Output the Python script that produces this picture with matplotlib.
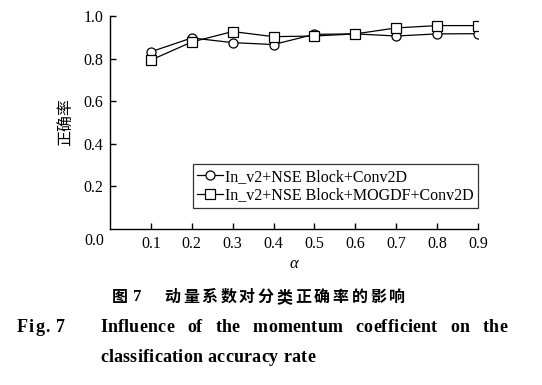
import matplotlib
matplotlib.use("Agg")
import matplotlib.pyplot as plt

alpha = [0.1, 0.2, 0.3, 0.4, 0.5, 0.6, 0.7, 0.8, 0.9]
acc_base = [0.832, 0.897, 0.875, 0.866, 0.914, 0.916, 0.906, 0.916, 0.917]
acc_mogdf = [0.793, 0.878, 0.927, 0.903, 0.906, 0.916, 0.944, 0.955, 0.955]
label_base = "In_v2+NSE Block+Conv2D"
label_mogdf = "In_v2+NSE Block+MOGDF+Conv2D"
xticks = [0.1, 0.2, 0.3, 0.4, 0.5, 0.6, 0.7, 0.8, 0.9]
yticks = [0.2, 0.4, 0.6, 0.8, 1.0]

W, H = 542, 385
fig = plt.figure(figsize=(W / 100, H / 100), dpi=100)
serif = "Liberation Serif"
cjk = ["Noto Sans CJK SC", "DejaVu Sans"]

def fx(x):
    return x / W

def fy(y):
    return 1 - y / H

ax = fig.add_axes([fx(110), fy(229), (478 - 110) / W, (229 - 16) / H])
ax.plot(alpha, acc_base, color="black", lw=0.9, marker="o", ms=6.5,
        mfc="white", mec="black", mew=0.9, label=label_base)
ax.plot(alpha, acc_mogdf, color="black", lw=0.9, marker="s", ms=6.5,
        mfc="white", mec="black", mew=0.9, label=label_mogdf)
ax.set_xlim(0, 0.9)
ax.set_ylim(0, 1.0)
ax.set_xticks(xticks)
ax.set_xticklabels([f"{v:.1f}" for v in xticks])
ax.set_yticks(yticks)
ax.set_yticklabels([f"{v:.1f}" for v in yticks])
for s in ["top", "right"]:
    ax.spines[s].set_visible(False)
for s in ["left", "bottom"]:
    ax.spines[s].set_linewidth(1.0)
ax.tick_params(direction="in", length=4, width=1.0, labelsize=11.5, pad=5)
for lab in ax.get_xticklabels() + ax.get_yticklabels():
    lab.set_family(serif)
fig.text(fx(94), fy(241), "0.0", fontsize=11.5, family=serif, ha="center", va="center")
ax.set_xlabel("α", fontsize=12, family=serif, style="italic", labelpad=3)
ax.set_ylabel("正确率", fontsize=11.5, family=cjk, labelpad=6)

leg = ax.legend(loc="lower right", bbox_to_anchor=(1.0, (229 - 208) / 213),
                borderaxespad=0, frameon=True, fancybox=False,
                prop={"family": serif, "size": 11.5}, handlelength=1.6,
                handletextpad=0.1, borderpad=0.3, labelspacing=0.15)
leg.get_frame().set_edgecolor("black")
leg.get_frame().set_linewidth(0.9)

# captions
title_chars = "动量系数对分类正确率的影响"
fig.text(fx(112), fy(297), "图", fontsize=11.5, family=cjk, weight="bold", va="center")
fig.text(fx(133), fy(297), "7", fontsize=12, family=serif, weight="bold", va="center")
for i, c in enumerate(title_chars):
    fig.text(fx(164 + i * 18.75), fy(297), c, fontsize=11.5, family=cjk,
             weight="bold", va="center")

fig.canvas.draw()
r = fig.canvas.get_renderer()
FS = 13

def char_objs(s, y):
    objs = [fig.text(0, fy(y), c, fontsize=FS, family=serif, weight="bold", va="center")
            for c in s]
    widths = []
    for c, o in zip(s, objs):
        if c == " ":
            widths.append(FS * 1.389 * 0.25)
        else:
            widths.append(o.get_window_extent(r).width)
    return objs, widths

def place(objs, widths, x0, track):
    x = x0
    for o, wd in zip(objs, widths):
        o.set_x(fx(x))
        x += wd + track
    return x

# line 3: tracked to fit 100..315
l3 = "classification accuracy rate"
o3, w3 = char_objs(l3, 358)
track = (315 - 100 - sum(w3)) / (len(l3) - 1)
place(o3, w3, 100, track)

# Fig. 7
f = "Fig. 7"
of, wf = char_objs(f, 328)
tf = (65 - 17 - sum(wf)) / (len(f) - 1)
place(of, wf, 17, tf)

# line 2: justified words with same tracking
words = ["Influence", "of", "the", "momentum", "coefficient", "on", "the"]
wobjs = [char_objs(wd, 328) for wd in words]
wlens = [sum(ws) + track * (len(ws) - 1) for _, ws in wobjs]
gap = (507 - 100 - sum(wlens)) / (len(words) - 1)
x = 100
for (os_, ws), L in zip(wobjs, wlens):
    place(os_, ws, x, track)
    x += L + gap

fig.savefig("out.png", dpi=100)
